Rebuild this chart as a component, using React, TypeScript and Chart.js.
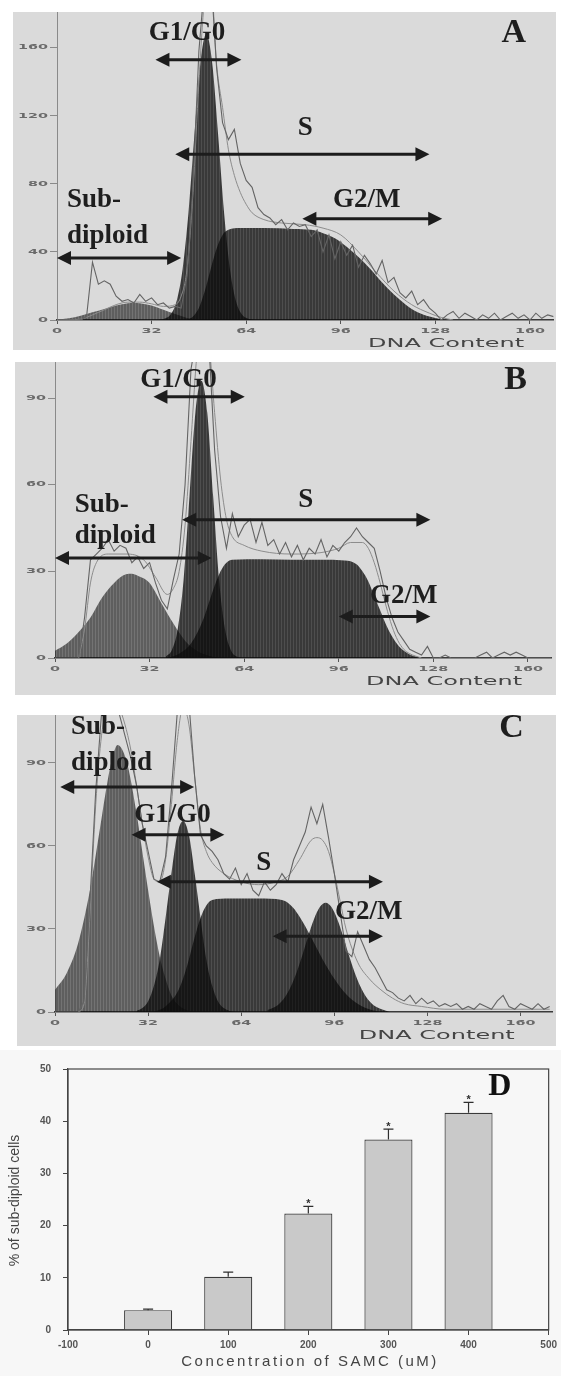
import React, { useEffect, useRef } from 'react';
import { Chart, registerables } from 'chart.js';

Chart.register(...registerables);

type Pt = [number, number];
type Arrow = { from: number; to: number; y: number };
type Label = { text: string; x: number; y: number; align?: CanvasTextAlign };

// ---------- shared DNA-content channels and ticks ----------
const dnaChannels = [
  0, 2, 4, 6, 8, 10, 12, 14, 16, 18,
  20, 22, 24, 26, 28, 30, 32, 34, 36, 38,
  40, 42, 44, 46, 48, 50, 52, 54, 56, 58,
  60, 62, 64, 66, 68, 70, 72, 74, 76, 78,
  80, 82, 84, 86, 88, 90, 92, 94, 96, 98,
  100, 102, 104, 106, 108, 110, 112, 114, 116, 118,
  120, 122, 124, 126, 128, 130, 132, 134, 136, 138,
  140, 142, 144, 146, 148, 150, 152, 154, 156, 158,
  160, 162, 164, 166, 168, 170,
];
const dnaTicks = [0, 32, 64, 96, 128, 160];
const dnaTitle = 'DNA Content';

// ---------- Panel A ----------
const aYTicks = [0, 40, 80, 120, 160];
const aRaw = [
  0, 0, 0, 0, 0, 2, 34, 21, 23, 21,
  14, 11, 12, 10, 15, 11, 13, 9, 10, 7,
  8, 7, 26, 78, 158, 200, 205, 148, 116, 106,
  112, 92, 82, 78, 66, 62, 60, 56, 59, 53,
  57, 55, 56, 49, 53, 40, 50, 36, 46, 38,
  44, 31, 38, 33, 27, 35, 22, 25, 16, 13,
  17, 9, 12, 7, 4, 0, 3, 5, 1, 4,
  2, 0, 3, 1, 4, 0, 2, 4, 1, 3,
  0, 4, 1, 3, 2, 2,
];
const aFit: Pt[] = [
  [0, 0], [8, 0.5], [12, 3], [16, 6], [20, 9], [24, 10.5], [28, 10.5], [32, 9.5], [36, 8], [40, 9],
  [42, 14], [44, 30], [46, 75], [48, 140], [50, 190], [52, 200], [54, 150], [56, 125], [58, 100],
  [60, 85], [62, 75], [64, 68], [66, 63], [70, 59], [76, 57], [84, 56], [90, 54], [96, 50],
  [102, 40], [108, 28], [114, 17], [120, 9], [126, 4], [130, 1.5], [134, 0],
];
const aSubDiploid: Pt[] = [
  [0, 0.3], [4, 1], [8, 2.5], [12, 4.5], [16, 6.5], [20, 8.5], [24, 9.8], [26, 10], [28, 9.8],
  [32, 8.5], [36, 6], [40, 3.5], [44, 1.2], [48, 0],
];
const aG1: Pt[] = [
  [34.5, 0.2], [36.5, 0.9], [38.5, 3.4], [40.5, 11.3], [42.5, 30], [44.5, 63.5], [46.5, 109],
  [48.5, 151], [50.5, 168], [52.5, 151], [54.5, 109], [56.5, 63.5], [58.5, 30], [60.5, 11.3],
  [62.5, 3.4], [64.5, 0.9], [66.5, 0.2], [68, 0],
];
const aS: Pt[] = [
  [44, 0], [46, 2], [48, 7], [50, 17], [52, 30], [54, 42], [56, 50], [58, 53], [62, 54], [70, 54],
  [80, 53.5], [86, 53], [90, 51], [94, 48], [98, 43], [102, 37], [106, 30], [110, 22], [114, 15],
  [118, 9], [122, 4.5], [126, 2], [130, 0.5], [132, 0],
];
const aG2: Pt[] = [];
const aArrows: Arrow[] = [
  { from: 0, to: 42, y: 36.5 },
  { from: 33.3, to: 62.4, y: 153 },
  { from: 40, to: 126, y: 97.4 },
  { from: 83, to: 130.3, y: 59.5 },
];
const aLabels: Label[] = [
  { text: 'G1/G0', x: 44, y: 168.5 },
  { text: 'S', x: 84, y: 112.6 },
  { text: 'G2/M', x: 104.8, y: 70.7 },
  { text: 'Sub-', x: 3.4, y: 70.6, align: 'left' },
  { text: 'diploid', x: 3.4, y: 49.5, align: 'left' },
];
const aLetter: Label = { text: 'A', x: 154.5, y: 168.6 };

// ---------- Panel B ----------
const bYTicks = [0, 30, 60, 90];
const bRaw = [
  0, 0, 0, 0, 0, 14, 34, 36, 38, 41,
  37, 39, 38, 33, 35, 31, 33, 26, 20, 17,
  27, 36, 60, 100, 112, 115, 110, 72, 49, 38,
  50, 42, 46, 48, 40, 47, 39, 41, 36, 40,
  35, 39, 34, 38, 36, 41, 35, 39, 37, 40,
  42, 45, 42, 40, 38, 30, 21, 14, 9, 6,
  3, 2, 1, 4, 0, 0, 1, 0, 0, 0,
  0, 0, 1, 2, 0, 1, 2, 1, 2, 1,
  0, 0, 0, 0, 0, 0,
];
const bFit: Pt[] = [
  [8, 0], [10, 10], [12, 26], [14, 33], [18, 36], [24, 36], [30, 34], [34, 28], [38, 22], [40, 24],
  [42, 30], [44, 46], [46, 75], [48, 105], [50, 118], [52, 110], [54, 85], [56, 62], [58, 48],
  [60, 42], [64, 39], [70, 37], [80, 36], [90, 36.5], [96, 38], [100, 40], [104, 40], [106, 38],
  [108, 33], [110, 26], [112, 18], [114, 11], [116, 6], [118, 3], [120, 1.5], [124, 0],
];
const bSubDiploid: Pt[] = [
  [0, 2.5], [4, 5], [8, 9], [12, 14], [16, 21], [20, 26], [24, 29], [26, 29.2], [28, 28.5],
  [32, 26], [36, 19], [40, 12], [44, 6], [48, 2.5], [52, 0.8], [56, 0],
];
const bG1: Pt[] = [
  [37.5, 0.5], [39.5, 2.7], [41.5, 9.9], [43.5, 27], [45.5, 56], [47.5, 85], [49.5, 96],
  [51.5, 85], [53.5, 56], [55.5, 27], [57.5, 10], [59.5, 2.7], [61.5, 0.5], [63.5, 0],
];
const bS: Pt[] = [
  [38, 0], [42, 1.5], [46, 5], [50, 13], [52, 19], [54, 25], [56, 30], [58, 33], [60, 34],
  [70, 34.2], [80, 34], [90, 34], [98, 33.8], [102, 32.5], [104, 30], [106, 26.5], [108, 21.5],
  [110, 16.5], [112, 11.5], [114, 7.5], [116, 4.5], [118, 2.5], [120, 1.2], [122, 0.5], [124, 0],
];
const bG2: Pt[] = [];
const bArrows: Arrow[] = [
  { from: 0, to: 53, y: 34.6 },
  { from: 33.3, to: 64.2, y: 90.5 },
  { from: 43, to: 127, y: 47.9 },
  { from: 96, to: 127, y: 14.4 },
];
const bLabels: Label[] = [
  { text: 'G1/G0', x: 41.8, y: 96.3 },
  { text: 'S', x: 84.8, y: 54.8 },
  { text: 'G2/M', x: 118, y: 21.3 },
  { text: 'Sub-', x: 6.7, y: 53, align: 'left' },
  { text: 'diploid', x: 6.7, y: 42.2, align: 'left' },
];
const bLetter: Label = { text: 'B', x: 155.8, y: 96.3 };

// ---------- Panel C ----------
const cYTicks = [0, 30, 60, 90];
const cRaw = [
  0, 0, 0, 0, 0, 4, 40, 80, 108, 115,
  112, 108, 100, 92, 82, 68, 58, 48, 47, 56,
  80, 108, 120, 112, 85, 64, 60, 58, 55, 50,
  48, 52, 46, 50, 44, 42, 47, 44, 46, 50,
  47, 55, 60, 65, 74, 68, 75, 63, 50, 36,
  22, 20, 29, 24, 19, 16, 12, 8, 7, 5,
  4, 6, 3, 5, 3, 4, 2, 3, 2, 3,
  1, 2, 1, 3, 2, 1, 4, 6, 2, 1,
  3, 2, 1, 3, 1, 2,
];
const cFit: Pt[] = [
  [8, 0], [10, 3], [12, 35], [14, 75], [16, 100], [18, 110], [20, 112], [22, 110], [24, 104],
  [26, 95], [28, 82], [30, 68], [32, 56], [34, 48], [36, 47], [38, 55], [40, 75], [42, 98],
  [44, 110], [46, 104], [48, 85], [50, 66], [52, 58], [54, 54], [58, 50], [64, 47], [70, 46],
  [76, 47], [80, 49], [84, 55], [88, 62], [90, 63], [92, 62], [94, 58], [96, 50], [98, 40],
  [100, 30], [104, 18], [108, 12], [112, 8], [116, 5], [120, 3], [126, 2], [134, 1], [170, 1],
];
const cSubDiploid: Pt[] = [
  [0, 8], [4, 14], [8, 25], [12, 44], [16, 70], [18, 83], [20, 93], [21.5, 96.5], [23, 95],
  [25, 89], [28, 72], [30, 58], [32, 44], [34, 31], [36, 20], [38, 12], [40, 6], [43, 2],
  [46, 0.5], [48, 0],
];
const cG1: Pt[] = [
  [28, 0.4], [30, 1.4], [32, 3.9], [34, 9.5], [36, 19], [38, 34], [40, 50], [42, 64], [44, 69],
  [46, 64], [48, 50], [50, 34], [52, 19], [54, 9.5], [56, 3.9], [58, 1.4], [60, 0.4], [62, 0],
];
const cS: Pt[] = [
  [34, 0], [38, 2], [42, 7], [44, 12], [46, 19], [48, 27], [50, 34], [52, 38.5], [54, 40.5],
  [60, 41], [70, 41], [78, 40.5], [80, 39.5], [82, 37.5], [84, 34.5], [86, 31], [88, 27],
  [92, 19], [96, 12], [100, 6.5], [104, 3], [108, 1], [112, 0],
];
const cG2: Pt[] = [
  [73, 0.7], [75, 1.5], [77, 2.9], [79, 5.3], [81, 9.1], [83, 14.2], [85, 20.5], [87, 27.4],
  [89, 33.5], [91, 37.9], [93, 39.5], [95, 37.9], [97, 33.5], [99, 27.4], [101, 20.5],
  [103, 14.2], [105, 9.1], [107, 5.3], [109, 2.9], [111, 1.5], [113, 0.7], [115, 0],
];
const cArrows: Arrow[] = [
  { from: 1.8, to: 47.8, y: 81.3 },
  { from: 26.3, to: 58.2, y: 64 },
  { from: 35, to: 112.7, y: 47.1 },
  { from: 74.8, to: 112.7, y: 27.4 },
];
const cLabels: Label[] = [
  { text: 'Sub-', x: 5.5, y: 103, align: 'left' },
  { text: 'diploid', x: 5.5, y: 90, align: 'left' },
  { text: 'G1/G0', x: 40.4, y: 71.3 },
  { text: 'S', x: 71.7, y: 53.7 },
  { text: 'G2/M', x: 107.8, y: 36.2 },
];
const cLetter: Label = { text: 'C', x: 156.9, y: 102.7 };

// ---------- Panel D ----------
const dConcentration = [0, 100, 200, 300, 400];
const dSubDiploidPct = [3.8, 10.2, 22.3, 36.5, 41.6];
const dError = [0.2, 0.9, 1.4, 2.0, 2.0];
const dMarks = ['', '', '*', '*', '*'];
const dXTicks = [-100, 0, 100, 200, 300, 400, 500];
const dYTicks = [0, 10, 20, 30, 40, 50];
const dXTitle = 'Concentration of SAMC (uM)';
const dYTitle = '% of sub-diploid cells';
const dLetter: Label = { text: 'D', x: 439, y: 46.6 };

// ---------- layout (pixels) ----------
const layoutA = { left: 13, top: 12, width: 543, height: 338, yWidth: 44, xHeight: 30, padRight: 2.4, xMax: 168, yMax: 181 };
const layoutB = { left: 15, top: 362, width: 541, height: 333, yWidth: 40, xHeight: 37, padRight: 4.4, xMax: 168, yMax: 102.5 };
const layoutC = { left: 17, top: 715, width: 539, height: 331, yWidth: 38, xHeight: 34, padRight: 3.4, xMax: 171, yMax: 107.3 };

const toXY = (pts: Pt[]) => pts.map(([x, y]) => ({ x, y }));

function makeStripes(alphaA: number, alphaB: number) {
  const c = document.createElement('canvas');
  c.width = 3;
  c.height = 4;
  const g = c.getContext('2d')!;
  g.fillStyle = `rgba(12,12,12,${alphaA})`;
  g.fillRect(0, 0, 2, 4);
  g.fillStyle = `rgba(12,12,12,${alphaB})`;
  g.fillRect(2, 0, 1, 4);
  return g.createPattern(c, 'repeat')!;
}

function stretchText(ctx: CanvasRenderingContext2D, text: string, x: number, y: number, align: CanvasTextAlign, sx: number, sy: number) {
  ctx.save();
  ctx.translate(x, y);
  ctx.scale(sx, sy);
  ctx.textAlign = align;
  ctx.textBaseline = 'middle';
  ctx.fillText(text, 0, 0);
  ctx.restore();
}

function drawArrow(ctx: CanvasRenderingContext2D, x1: number, x2: number, y: number) {
  const head = 14;
  const half = 7;
  ctx.strokeStyle = '#1c1c1c';
  ctx.fillStyle = '#1c1c1c';
  ctx.lineWidth = 3;
  ctx.beginPath();
  ctx.moveTo(x1 + head - 2, y);
  ctx.lineTo(x2 - head + 2, y);
  ctx.stroke();
  ctx.beginPath();
  ctx.moveTo(x1, y);
  ctx.lineTo(x1 + head, y - half);
  ctx.lineTo(x1 + head, y + half);
  ctx.closePath();
  ctx.fill();
  ctx.beginPath();
  ctx.moveTo(x2, y);
  ctx.lineTo(x2 - head, y - half);
  ctx.lineTo(x2 - head, y + half);
  ctx.closePath();
  ctx.fill();
}

type HistSpec = {
  raw: number[]; fit: Pt[]; sub: Pt[]; g1: Pt[]; s: Pt[]; g2: Pt[];
  yTicks: number[]; arrows: Arrow[]; labels: Label[]; letter: Label;
  layout: typeof layoutA;
};

const panelA: HistSpec = { raw: aRaw, fit: aFit, sub: aSubDiploid, g1: aG1, s: aS, g2: aG2, yTicks: aYTicks, arrows: aArrows, labels: aLabels, letter: aLetter, layout: layoutA };
const panelB: HistSpec = { raw: bRaw, fit: bFit, sub: bSubDiploid, g1: bG1, s: bS, g2: bG2, yTicks: bYTicks, arrows: bArrows, labels: bLabels, letter: bLetter, layout: layoutB };
const panelC: HistSpec = { raw: cRaw, fit: cFit, sub: cSubDiploid, g1: cG1, s: cS, g2: cG2, yTicks: cYTicks, arrows: cArrows, labels: cLabels, letter: cLetter, layout: layoutC };

function Histogram({ spec }: { spec: HistSpec }) {
  const ref = useRef<HTMLCanvasElement>(null);
  const L = spec.layout;
  useEffect(() => {
    const canvas = ref.current!;
    const dark = makeStripes(0.78, 0.68);
    const mid = makeStripes(0.6, 0.5);
    const fillDs = (label: string, pts: Pt[], bg: any) => ({
      label,
      data: toXY(pts),
      backgroundColor: bg,
      borderColor: 'rgba(0,0,0,0)',
      borderWidth: 0,
      pointRadius: 0,
      fill: 'origin',
      cubicInterpolationMode: 'monotone',
    });
    const overlay = {
      id: 'histOverlay',
      afterDraw(chart: any) {
        const { ctx, chartArea: ca } = chart;
        const xs = chart.scales.x;
        const ys = chart.scales.y;
        ctx.save();
        ctx.fillStyle = '#6a6a6a';
        ctx.font = 'bold 9px "DejaVu Sans"';
        dnaTicks.forEach((v) => stretchText(ctx, String(v), xs.getPixelForValue(v), ca.bottom + 11, 'center', 1.6, 0.75));
        spec.yTicks.forEach((v) => stretchText(ctx, String(v), ca.left - 9, ys.getPixelForValue(v), 'right', 1.6, 0.75));
        ctx.fillStyle = '#454545';
        ctx.font = '12px "DejaVu Sans"';
        stretchText(ctx, dnaTitle, xs.getPixelForValue(158), ca.bottom + 24, 'right', 2.0, 0.95);
        spec.arrows.forEach((a) => drawArrow(ctx, xs.getPixelForValue(a.from), xs.getPixelForValue(a.to), ys.getPixelForValue(a.y)));
        ctx.fillStyle = '#1e1e1e';
        ctx.font = 'bold 27px "Liberation Serif"';
        ctx.textBaseline = 'middle';
        spec.labels.forEach((l) => {
          ctx.textAlign = l.align || 'center';
          ctx.fillText(l.text, xs.getPixelForValue(l.x), ys.getPixelForValue(l.y));
        });
        ctx.font = 'bold 34px "Liberation Serif"';
        ctx.textAlign = 'center';
        ctx.fillText(spec.letter.text, xs.getPixelForValue(spec.letter.x), ys.getPixelForValue(spec.letter.y));
        ctx.restore();
      },
    };
    const chart = new Chart(canvas, {
      type: 'line',
      data: {
        datasets: [
          {
            label: 'raw',
            data: dnaChannels.map((x, i) => ({ x, y: spec.raw[i] })),
            borderColor: '#646464',
            borderWidth: 1.1,
            pointRadius: 0,
            tension: 0,
            fill: false,
          },
          {
            label: 'fit',
            data: toXY(spec.fit),
            borderColor: '#8c8c8c',
            borderWidth: 1,
            pointRadius: 0,
            cubicInterpolationMode: 'monotone',
            fill: false,
          },
          fillDs('G2/M', spec.g2, dark),
          fillDs('S', spec.s, dark),
          fillDs('G1/G0', spec.g1, dark),
          fillDs('Sub-diploid', spec.sub, mid),
        ] as any,
      },
      options: {
        animation: false,
        responsive: false,
        maintainAspectRatio: false,
        layout: { padding: { left: 0, top: 0, right: L.padRight, bottom: 0 } },
        plugins: { legend: { display: false }, tooltip: { enabled: false } },
        scales: {
          x: {
            type: 'linear',
            min: 0,
            max: L.xMax,
            afterBuildTicks: (s: any) => { s.ticks = dnaTicks.map((v) => ({ value: v })); },
            afterFit: (s: any) => { s.height = L.xHeight; },
            ticks: { display: false },
            grid: { drawOnChartArea: false, drawTicks: true, tickLength: 4, color: '#555' },
            border: { display: true, color: '#3a3a3a', width: 1.5 },
          },
          y: {
            type: 'linear',
            min: 0,
            max: L.yMax,
            afterBuildTicks: (s: any) => { s.ticks = spec.yTicks.map((v) => ({ value: v })); },
            afterFit: (s: any) => { s.width = L.yWidth; },
            ticks: { display: false },
            grid: { drawOnChartArea: false, drawTicks: true, tickLength: 7, color: '#8a8a8a' },
            border: { display: true, color: '#8a8a8a', width: 1 },
          },
        },
      } as any,
      plugins: [overlay],
    });
    return () => chart.destroy();
  }, [spec]);
  return (
    <div style={{ position: 'absolute', left: L.left, top: L.top, width: L.width, height: L.height, background: '#dadada' }}>
      <canvas ref={ref} width={L.width} height={L.height} style={{ display: 'block' }} />
    </div>
  );
}

function BarPanel() {
  const ref = useRef<HTMLCanvasElement>(null);
  useEffect(() => {
    const canvas = ref.current!;
    const overlay = {
      id: 'barOverlay',
      afterDraw(chart: any) {
        const { ctx, chartArea: ca } = chart;
        const xs = chart.scales.x;
        const ys = chart.scales.y;
        ctx.save();
        ctx.strokeStyle = '#444';
        ctx.lineWidth = 1.2;
        ctx.strokeRect(ca.left, ca.top, ca.right - ca.left, ca.bottom - ca.top);
        ctx.strokeStyle = '#2e2e2e';
        ctx.fillStyle = '#2e2e2e';
        dConcentration.forEach((c, i) => {
          const px = xs.getPixelForValue(c);
          const yTop = ys.getPixelForValue(dSubDiploidPct[i]);
          const yErr = ys.getPixelForValue(dSubDiploidPct[i] + dError[i]);
          ctx.beginPath();
          ctx.moveTo(px, yTop);
          ctx.lineTo(px, yErr);
          ctx.moveTo(px - 5, yErr);
          ctx.lineTo(px + 5, yErr);
          ctx.stroke();
          if (dMarks[i]) {
            ctx.font = 'bold 11px "Liberation Sans"';
            ctx.textAlign = 'center';
            ctx.textBaseline = 'middle';
            ctx.fillText(dMarks[i], px, yErr - 2);
          }
        });
        ctx.fillStyle = '#111';
        ctx.font = 'bold 32px "Liberation Serif"';
        ctx.textAlign = 'center';
        ctx.textBaseline = 'middle';
        ctx.fillText(dLetter.text, xs.getPixelForValue(dLetter.x), ys.getPixelForValue(dLetter.y));
        ctx.fillStyle = '#444';
        ctx.font = '14px "Liberation Sans"';
        ctx.save();
        ctx.translate(15, (ca.top + ca.bottom) / 2 + 1);
        ctx.rotate(-Math.PI / 2);
        ctx.fillText(dYTitle, 0, 0);
        ctx.restore();
        ctx.font = '15px "Liberation Sans"';
        (ctx as any).letterSpacing = '2.5px';
        ctx.fillText(dXTitle, 310, ca.bottom + 32);
        (ctx as any).letterSpacing = '0px';
        ctx.restore();
      },
    };
    const chart = new Chart(canvas, {
      type: 'bar',
      data: {
        datasets: [
          {
            label: '% of sub-diploid cells',
            data: dConcentration.map((x, i) => ({ x, y: dSubDiploidPct[i] })),
            backgroundColor: '#c9c9c9',
            borderColor: '#3a3a3a',
            borderWidth: 1.2,
            barPercentage: 0.6,
            categoryPercentage: 1,
          },
        ],
      },
      options: {
        animation: false,
        responsive: false,
        maintainAspectRatio: false,
        layout: { padding: { left: 0, top: 19, right: 11, bottom: 0 } },
        plugins: { legend: { display: false }, tooltip: { enabled: false } },
        scales: {
          x: {
            type: 'linear',
            min: -100,
            max: 500,
            offset: false,
            afterBuildTicks: (s: any) => { s.ticks = dXTicks.map((v) => ({ value: v })); },
            afterFit: (s: any) => { s.height = 46; },
            ticks: { color: '#555', padding: 4, font: { family: 'Liberation Sans', size: 10, weight: 'bold' } },
            grid: { drawOnChartArea: false, drawTicks: true, tickLength: 5, color: '#444', offset: false },
            border: { display: true, color: '#444', width: 1.2 },
          },
          y: {
            type: 'linear',
            min: 0,
            max: 50,
            afterBuildTicks: (s: any) => { s.ticks = dYTicks.map((v) => ({ value: v })); },
            afterFit: (s: any) => { s.width = 68; },
            ticks: { color: '#555', padding: 12, font: { family: 'Liberation Sans', size: 10, weight: 'bold' } },
            grid: { drawOnChartArea: false, drawTicks: true, tickLength: 5, color: '#444' },
            border: { display: true, color: '#444', width: 1.2 },
          },
        },
      } as any,
      plugins: [overlay],
    });
    return () => chart.destroy();
  }, []);
  return (
    <div style={{ position: 'absolute', left: 0, top: 1050, width: 561, height: 326, background: '#f7f7f7' }}>
      <canvas ref={ref} width={561} height={326} style={{ display: 'block' }} />
    </div>
  );
}

export default function App() {
  return (
    <div style={{ position: 'absolute', left: 0, top: 0, width: 561, height: 1376, background: '#ffffff', overflow: 'hidden' }}>
      <Histogram spec={panelA} />
      <Histogram spec={panelB} />
      <Histogram spec={panelC} />
      <BarPanel />
    </div>
  );
}
